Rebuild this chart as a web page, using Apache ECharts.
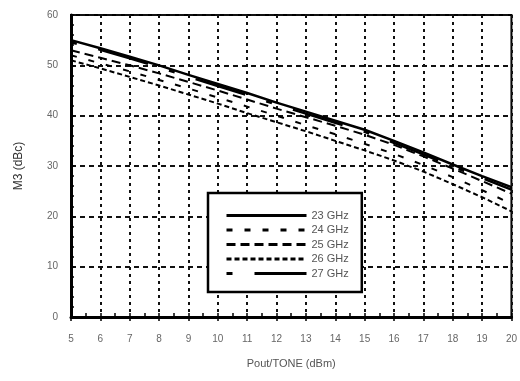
<!DOCTYPE html>
<html><head><meta charset="utf-8">
<script src="https://cdn.jsdelivr.net/npm/echarts@6/dist/echarts.min.js"></script>
<style>html,body{margin:0;padding:0;background:#fff}#c{width:520px;height:381px}</style>
</head><body><div id="c"></div>
<script>
const xValues = [5,6,7,8,9,10,11,12,13,14,15,16,17,18,19,20];
const seriesNames = ['23 GHz','24 GHz','25 GHz','26 GHz','27 GHz'];
const m3_23 = [55,53.4,51.7,50,48.1,46.3,44.5,42.6,40.8,39,37.2,35,32.7,30.3,28,25.8];
const m3_24 = [52,50.4,48.8,47.1,45.4,43.6,41.8,40,38.1,36.3,34.4,32.4,30.2,27.8,25.2,22.5];
const m3_25 = [53,51.5,50,48.4,46.7,45,43.2,41.4,39.7,38,36.2,34.2,31.9,29.5,27,24.5];
const m3_26 = [51,49.4,47.7,46,44.2,42.4,40.5,38.7,36.9,35,33.1,31.1,28.9,26.4,23.8,21];
const m3_27 = [54.6,53.1,51.4,49.6,47.7,45.9,44.1,42.2,40.4,38.6,36.8,34.6,32.3,29.9,27.6,25.3];
const yTicks = [0,10,20,30,40,50,60];

const allData = [m3_23, m3_24, m3_25, m3_26, m3_27];
const dashTypes = ['solid', [6,12], [9,5], [5,3], [6,22,52,22]];
const widths = [2.5, 2, 2, 2, 2.5];

const chart = echarts.init(document.getElementById('c'));
const font = 'Liberation Sans, Arial, sans-serif';
chart.setOption({
  animation: false,
  backgroundColor: '#fff',
  grid: {left: 71, right: 8, top: 15, bottom: 64, show: true, borderColor: '#000', borderWidth: 2},
  legend: {
    orient: 'vertical', left: 208, top: 193,
    padding: [17, 13, 13, 17], itemGap: 3.5, itemWidth: 80, itemHeight: 10,
    backgroundColor: '#fff', borderColor: '#000', borderWidth: 2.5,
    itemStyle: {opacity: 0},
    lineStyle: {width: 3},
    textStyle: {color: '#555', fontSize: 11, fontFamily: font},
    data: seriesNames
  },
  xAxis: [{
    type: 'value', min: 5, max: 20, interval: 1,
    name: 'Pout/TONE (dBm)', nameLocation: 'middle', nameGap: 41,
    nameTextStyle: {color: '#555', fontSize: 11, fontFamily: font},
    axisLine: {show: true, onZero: false, lineStyle: {color: '#000', width: 3}},
    axisTick: {show: true, inside: true, length: 4, lineStyle: {color: '#000', width: 1.5}},
    minorTick: {show: true, splitNumber: 2, length: 4, lineStyle: {color: '#000', width: 1.5}},
    axisLabel: {color: '#666', fontSize: 10, margin: 17, fontFamily: font},
    splitLine: {show: true, lineStyle: {color: '#111', width: 2, type: [3, 4]}}
  }, {
    type: 'value', min: 5, max: 20, interval: 1, position: 'top',
    axisLine: {show: false},
    axisTick: {show: true, inside: true, length: 4, lineStyle: {color: '#000', width: 1.5}},
    axisLabel: {show: false}, splitLine: {show: false}
  }],
  yAxis: {
    type: 'value', min: 0, max: 60, interval: 10,
    name: 'M3 (dBc)', nameLocation: 'middle', nameGap: 46,
    nameTextStyle: {color: '#333', fontSize: 12, fontFamily: font},
    axisLine: {show: true, lineStyle: {color: '#000', width: 3}},
    axisTick: {show: true, inside: true, length: 3, lineStyle: {color: '#000', width: 1.5}},
    minorTick: {show: true, splitNumber: 5, length: 3, lineStyle: {color: '#000', width: 1.5}},
    axisLabel: {color: '#666', fontSize: 10, margin: 13, fontFamily: font,
      formatter: v => yTicks.includes(v) ? String(v) : ''},
    splitLine: {show: true, lineStyle: {color: '#111', width: 2, type: [5, 4]}}
  },
  series: seriesNames.map((n, i) => ({
    name: n, type: 'line', symbol: 'none', z: 5,
    data: xValues.map((x, j) => [x, allData[i][j]]),
    lineStyle: {color: '#000', width: widths[i], type: dashTypes[i]},
    itemStyle: {color: '#000'}
  }))
});
</script></body></html>
